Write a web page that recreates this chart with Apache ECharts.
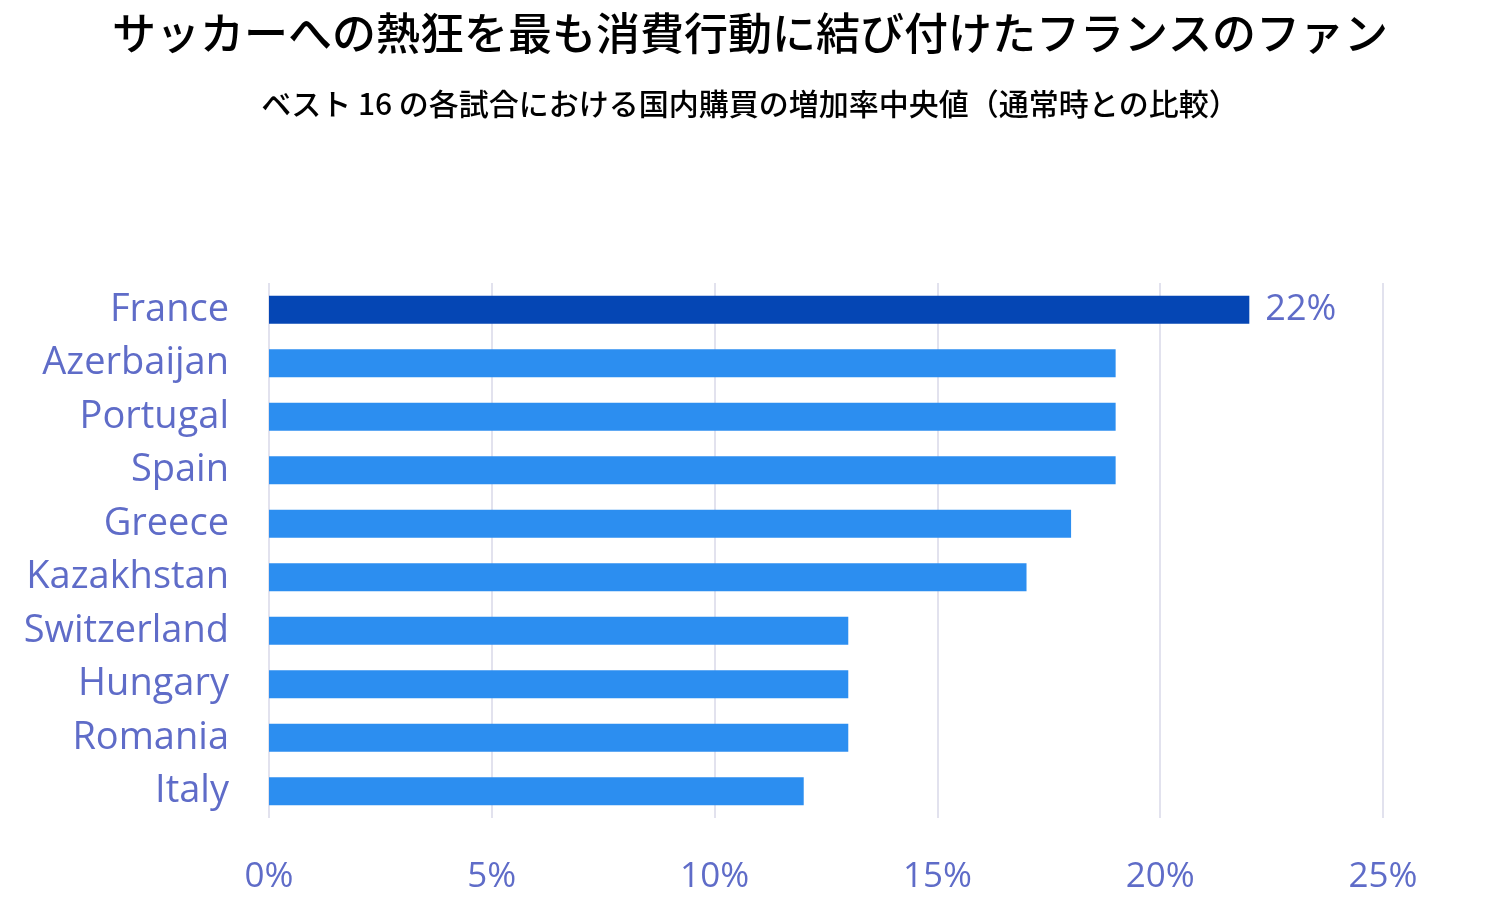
<!DOCTYPE html>
<html lang="ja">
<head>
    <meta charset="UTF-8">
    <title>サッカーへの熱狂を最も消費行動に結び付けたフランスのファン</title>
    <style>
        html, body { margin: 0; padding: 0; background: #fff; }
    </style>
</head>
<body>
    <div id="chart" style="width:1500px; height:915px"></div>

    <script src="https://cdn.jsdelivr.net/npm/echarts@6/dist/echarts.min.js"></script>
    <script>
        // 国名（上から順）
        const countries = ['France', 'Azerbaijan', 'Portugal', 'Spain', 'Greece',
            'Kazakhstan', 'Switzerland', 'Hungary', 'Romania', 'Italy'];
        // 増加率中央値（%）
        const growth = [22, 19, 19, 19, 18, 17, 13, 13, 13, 12];
        // 数値ラベルを出す国
        const labelled = ['France'];

        const labelColor = '#5f6cc8';
        const cjk = '"Noto Sans CJK JP", sans-serif';
        const latin = '"Open Sans", "Noto Sans", sans-serif';

        const chart = echarts.init(document.getElementById('chart'));

        chart.setOption({
            animation: false,
            title: [{
                text: 'サッカーへの熱狂を最も消費行動に結び付けたフランスのファン',
                left: 'center',
                top: 6,
                textStyle: { color: '#000', fontFamily: cjk, fontSize: 44, fontWeight: 500 }
            }, {
                text: 'ベスト 16 の各試合における国内購買の増加率中央値（通常時との比較）',
                left: 'center',
                top: 84,
                textStyle: { color: '#000', fontFamily: cjk, fontSize: 30, fontWeight: 500 }
            }],
            grid: { left: 269, right: 117, top: 283, height: 535, containLabel: false },
            xAxis: {
                type: 'value',
                min: 0,
                max: 25,
                interval: 5,
                axisLine: { show: false },
                axisTick: { show: false },
                splitLine: { lineStyle: { color: '#e2e2ee', width: 2 } },
                axisLabel: {
                    formatter: '{value}%',
                    color: labelColor,
                    fontFamily: latin,
                    fontSize: 35,
                    margin: 42
                }
            },
            yAxis: {
                type: 'category',
                inverse: true,
                data: countries,
                axisLine: { show: false },
                axisTick: { show: false },
                axisLabel: {
                    color: labelColor,
                    fontFamily: latin,
                    fontSize: 38,
                    margin: 40
                }
            },
            series: [{
                type: 'bar',
                barWidth: 28,
                data: growth.map((v, i) => ({
                    value: v,
                    itemStyle: { color: i === 0 ? '#0546b4' : '#2c8ef0' },
                    label: {
                        show: labelled.includes(countries[i]),
                        position: 'right',
                        distance: 16,
                        formatter: '{c}%',
                        color: labelColor,
                        fontFamily: latin,
                        fontSize: 36
                    }
                }))
            }]
        });
    </script>
</body>
</html>
